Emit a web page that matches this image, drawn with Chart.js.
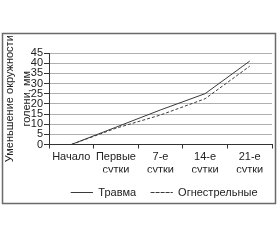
<!DOCTYPE html>
<html>
<head>
<meta charset="utf-8">
<script src="https://cdn.jsdelivr.net/npm/chart.js@4/dist/chart.umd.min.js"></script>
<style>
  html, body { margin: 0; padding: 0; background: #fff; }
  .chart-size { position: relative; width: 280px; height: 240px; }
</style>
</head>
<body>
<div class="chart-size">
  <canvas id="chart" width="280" height="240"></canvas>
</div>
<script>
const categories = [['Начало'], ['Первые', 'сутки'], ['7-е', 'сутки'], ['14-е', 'сутки'], ['21-е', 'сутки']];
const trauma = [0, 8.5, 17, 25, 41];
const gunshot = [0, 8, 14.5, 22.5, 38.5];
const yTitle = ['Уменьшение окружности', 'голени, мм'];

const font = { family: '"Liberation Sans", Arial, sans-serif', size: 11 };

// grey frame round the whole figure
const frame = {
  id: 'frame',
  afterDraw(chart) {
    const ctx = chart.ctx;
    ctx.save();
    ctx.strokeStyle = '#6a6a6a';
    ctx.lineWidth = 1.5;
    ctx.strokeRect(2.5, 33.5, 273, 170);
    ctx.restore();
  }
};

const ctx = document.getElementById('chart').getContext('2d');
new Chart(ctx, {
  type: 'line',
  data: {
    labels: categories,
    datasets: [
      {
        label: 'Травма',
        data: trauma,
        borderColor: '#3a3a3a',
        backgroundColor: 'rgba(0,0,0,0)',
        borderWidth: 1,
        pointRadius: 0,
        tension: 0
      },
      {
        label: 'Огнестрельные',
        data: gunshot,
        borderColor: '#3a3a3a',
        backgroundColor: 'rgba(0,0,0,0)',
        borderWidth: 1,
        borderDash: [3, 2],
        pointRadius: 0,
        tension: 0
      }
    ]
  },
  options: {
    responsive: false,
    animation: false,
    layout: { padding: { left: 0, top: 53, right: 8, bottom: 32 } },
    plugins: {
      tooltip: { enabled: false },
      legend: {
        position: 'bottom',
        align: 'end',
        labels: {
          color: '#222',
          font: font,
          boxWidth: 22,
          boxHeight: 0,
          padding: 14.5
        }
      }
    },
    scales: {
      x: {
        offset: true,
        grid: { offset: true, drawOnChartArea: false, tickLength: 4, color: '#333' },
        border: { color: '#333', width: 1 },
        ticks: { color: '#222', font: font, maxRotation: 0, autoSkip: false, padding: 2 },
        afterFit(scale) { scale.height = 28; }
      },
      y: {
        min: 0,
        max: 45,
        ticks: { stepSize: 5, autoSkip: false, color: '#222', font: font, padding: 1 },
        grid: { color: '#b0b0b0', tickLength: 5, tickColor: '#333' },
        border: { color: '#333', width: 1 },
        title: {
          display: true,
          text: yTitle,
          color: '#222',
          font: { family: font.family, size: 11, lineHeight: 1.6 },
          padding: { top: 1, bottom: 0 }
        },
        afterFit(scale) { scale.width = 49; }
      }
    }
  },
  plugins: [frame]
});
</script>
</body>
</html>
